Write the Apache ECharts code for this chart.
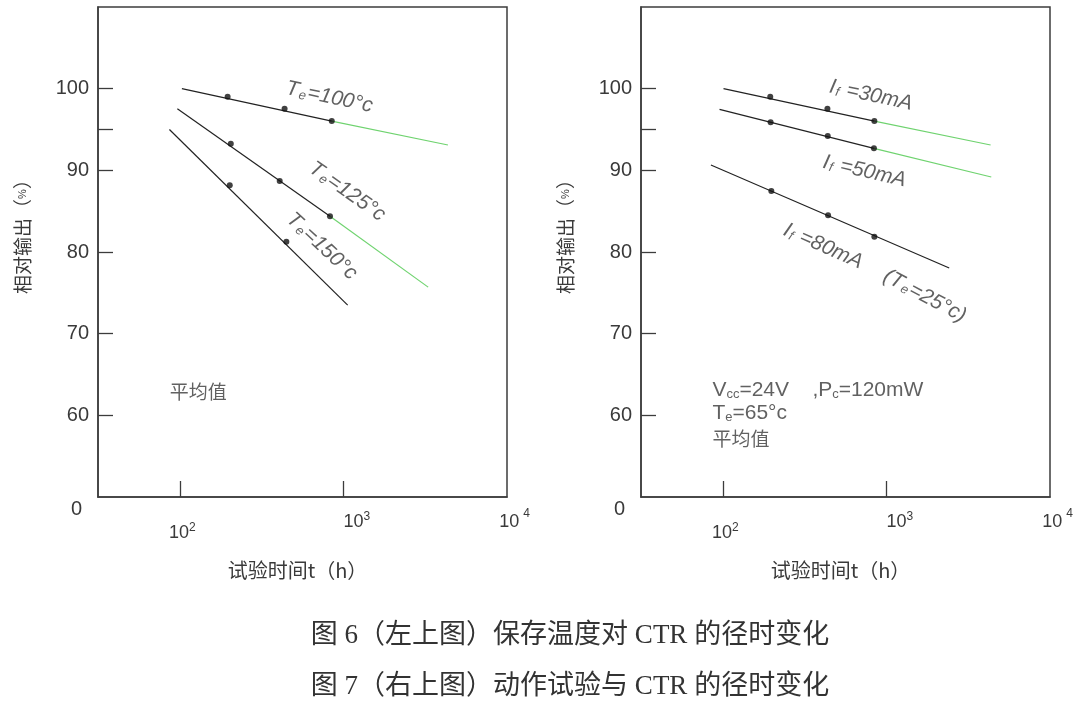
<!DOCTYPE html>
<html><head><meta charset="utf-8">
<script src="https://cdn.jsdelivr.net/npm/echarts@6/dist/echarts.min.js"></script>
<style>html,body{margin:0;padding:0;background:#fff}#c{width:1080px;height:710px}</style>
</head><body><div id="c"></div>
<script>
// ---- data: [test time (h), relative output (%)] ----
const te100Points = [[196, 99.0], [437, 97.55], [849, 96.03]];
const te100Fit = [[103, 100.0], [849, 96.03]];
const te100Extrap = [[849, 96.03], [4355, 93.1]];
const te125Points = [[205, 93.27], [408, 88.7], [828, 84.37]];
const te125Fit = [[96.6, 97.55], [828, 84.37]];
const te125Extrap = [[828, 84.37], [3296, 75.7]];
const te150Points = [[202, 88.16], [448, 81.27]];
const te150Fit = [[86.4, 95.0], [1062, 73.5]];

const if30Points = [[195, 99.0], [436, 97.55], [844, 96.03]];
const if30Fit = [[101, 100.0], [844, 96.03]];
const if30Extrap = [[844, 96.03], [4335, 93.1]];
const if50Points = [[196, 95.9], [438, 94.2], [839, 92.69]];
const if50Fit = [[95.5, 97.47], [839, 92.69]];
const if50Extrap = [[839, 92.69], [4375, 89.18]];
const if80Points = [[198, 87.47], [440, 84.5], [844, 81.88]];
const if80Fit = [[84.6, 90.65], [2421, 78.04]];

// ---- axis ticks / labels ----
const yTickValues = [60, 70, 80, 90, 95, 100];
const yLabelValues = [50, 60, 70, 80, 90, 100];
const yLabelTexts = {50: '0', 60: '60', 70: '70', 80: '80', 90: '90', 100: '100'};
const xTickValues = [100, 1000];
const xLabelValues = [100, 1000, 10000];
const xLabelExponents = {2: '2', 3: '3', 4: '4'};
const xAxisName = '试验时间t（h）';
const captions = ['图 6（左上图）保存温度对 CTR 的径时变化', '图 7（右上图）动作试验与 CTR 的径时变化'];

// ---- annotations: anchor in data units [h, %] ----
const leftNotes = [
  {at: [820, 98.94], text: '{i|T}{is|e}{i|=100°c}', rotate: -12, pos: 'inside'},
  {at: [1054, 87.4], text: '{i|T}{is|e}{i|=125°c}', rotate: -35, pos: 'inside'},
  {at: [738, 80.7], text: '{i|T}{is|e}{i|=150°c}', rotate: -43, pos: 'inside'},
  {at: [86.7, 62.86], text: '{c|平均值}', rotate: 0, pos: 'right'}
];
const rightNotes = [
  {at: [805, 99.18], text: '{i|I}{is|f}{i| =30mA}', rotate: -12, pos: 'inside'},
  {at: [735, 89.88], text: '{i|I}{is|f}{i| =50mA}', rotate: -13, pos: 'inside'},
  {at: [411, 80.7], text: '{i|I}{is|f}{i| =80mA}', rotate: -24, pos: 'inside'},
  {at: [1714, 74.6], text: '{i|(T}{is|e}{i|=25°c)}', rotate: -28, pos: 'inside'},
  {at: [86.4, 63.07], text: '{n|V}{s|cc}{n|=24V    ,P}{s|c}{n|=120mW}', rotate: 0, pos: 'right'},
  {at: [86.4, 60.26], text: '{n|T}{s|e}{n|=65°c}', rotate: 0, pos: 'right'},
  {at: [86.4, 57.08], text: '{c|平均值}', rotate: 0, pos: 'right'}
];

const AXIS_COLOR = '#3c3c3c';
const TEXT_COLOR = '#3a3a3a';
const LINE_COLOR = '#222';
const GREEN = '#6fd36f';
const LATIN = "'Liberation Sans', 'DejaVu Sans', sans-serif";
const CJK = "'Noto Sans CJK SC', sans-serif";

const noteRich = {
  i: {fontSize: 21, fontStyle: 'italic', fontFamily: LATIN, color: TEXT_COLOR},
  is: {fontSize: 13, fontStyle: 'italic', fontFamily: LATIN, color: TEXT_COLOR, verticalAlign: 'bottom', padding: [6, 1, 0, 1]},
  n: {fontSize: 21, fontFamily: LATIN, color: TEXT_COLOR},
  s: {fontSize: 13, fontFamily: LATIN, color: TEXT_COLOR, verticalAlign: 'bottom', padding: [6, 0, 0, 0]},
  c: {fontSize: 19, fontFamily: CJK, color: TEXT_COLOR}
};

function xAxisCfg(gi) {
  return {
    type: 'log', logBase: 10, gridIndex: gi,
    min: Math.pow(10, 1.5), max: 10000,
    axisLine: {show: true, lineStyle: {color: AXIS_COLOR, width: 1.5}},
    splitLine: {show: false},
    axisTick: {show: true, inside: true, length: 16, customValues: xTickValues, lineStyle: {color: AXIS_COLOR, width: 1.3}},
    axisLabel: {
      margin: 14,
      customValues: xLabelValues,
      formatter: function (v) {
        const e = Math.log10(v);
        const r = Math.round(e);
        if (Math.abs(e - r) > 1e-6 || !xLabelExponents[r]) return '';
        return '{b' + r + '|10}{s' + r + '|' + xLabelExponents[r] + '}';
      },
      rich: {
        b2: {fontSize: 18, fontFamily: LATIN, color: TEXT_COLOR, lineHeight: 44, padding: [0, 0, 0, 5]},
        s2: {fontSize: 12, fontFamily: LATIN, color: TEXT_COLOR, lineHeight: 44, padding: [0, 0, 10, 0]},
        b3: {fontSize: 18, fontFamily: LATIN, color: TEXT_COLOR, lineHeight: 22, padding: [0, 0, 0, 27]},
        s3: {fontSize: 12, fontFamily: LATIN, color: TEXT_COLOR, lineHeight: 22, padding: [0, 0, 10, 0]},
        b4: {fontSize: 18, fontFamily: LATIN, color: TEXT_COLOR, lineHeight: 22, padding: [0, 0, 0, 15]},
        s4: {fontSize: 12, fontFamily: LATIN, color: TEXT_COLOR, lineHeight: 22, padding: [0, 0, 16, 4]}
      }
    },
    name: xAxisName, nameLocation: 'middle', nameGap: 63,
    nameTextStyle: {fontSize: 20, fontFamily: CJK, color: TEXT_COLOR, padding: [0, 10, 0, 0]}
  };
}
function yAxisCfg(gi) {
  return {
    type: 'value', gridIndex: gi, min: 50, max: 110,
    axisLine: {show: true, lineStyle: {color: AXIS_COLOR, width: 1.5}},
    splitLine: {show: false},
    axisTick: {show: true, inside: true, length: 15, customValues: yTickValues, lineStyle: {color: AXIS_COLOR, width: 1.3}},
    axisLabel: {
      customValues: yLabelValues, margin: 9, fontSize: 20, fontFamily: LATIN, color: TEXT_COLOR,
      formatter: function (v) { return v === 50 ? '{z|' + yLabelTexts[v] + '}' : (yLabelTexts[v] || ''); },
      rich: {z: {fontSize: 20, fontFamily: LATIN, color: TEXT_COLOR, padding: [24, 7, 0, 0]}}
    },
    name: '{n|相对输出（}{p|%}{n|）}', nameLocation: 'middle', nameRotate: 90, nameGap: 66,
    nameTextStyle: {
      padding: [0, 0, 0, 40],
      rich: {
        n: {fontSize: 19, fontFamily: CJK, color: TEXT_COLOR},
        p: {fontSize: 11, fontFamily: LATIN, color: TEXT_COLOR}
      }
    }
  };
}

function lineSeries(gi, data, color) {
  return {type: 'line', xAxisIndex: gi, yAxisIndex: gi, data: data, symbol: 'none', silent: true,
    lineStyle: {color: color, width: 1.2}, z: 2};
}
function pointSeries(gi, data) {
  return {type: 'scatter', xAxisIndex: gi, yAxisIndex: gi, data: data, symbol: 'circle', symbolSize: 6,
    itemStyle: {color: '#111'}, z: 3};
}
function noteSeries(gi, notes) {
  return notes.map(function (n) {
    return {type: 'scatter', xAxisIndex: gi, yAxisIndex: gi, symbolSize: 0, silent: true, z: 4,
      data: [n.at],
      label: {show: true, position: n.pos, distance: 0, rotate: n.rotate, align: n.pos === 'right' ? 'left' : 'center',
        verticalAlign: 'middle',
        formatter: n.text, rich: noteRich}};
  });
}

const series = [
  lineSeries(0, te100Fit, LINE_COLOR), lineSeries(0, te100Extrap, GREEN), pointSeries(0, te100Points),
  lineSeries(0, te125Fit, LINE_COLOR), lineSeries(0, te125Extrap, GREEN), pointSeries(0, te125Points),
  lineSeries(0, te150Fit, LINE_COLOR), pointSeries(0, te150Points),
  lineSeries(1, if30Fit, LINE_COLOR), lineSeries(1, if30Extrap, GREEN), pointSeries(1, if30Points),
  lineSeries(1, if50Fit, LINE_COLOR), lineSeries(1, if50Extrap, GREEN), pointSeries(1, if50Points),
  lineSeries(1, if80Fit, LINE_COLOR), pointSeries(1, if80Points)
].concat(noteSeries(0, leftNotes), noteSeries(1, rightNotes));

const chart = echarts.init(document.getElementById('c'), null, {renderer: 'canvas'});
chart.setOption({
  animation: false,
  backgroundColor: '#fff',
  title: captions.map(function (t, i) {
    return {text: t, left: 565, top: 617 + i * 51, textAlign: 'center',
      textStyle: {fontSize: 27, fontWeight: 'normal', color: '#333', fontFamily: "'Liberation Serif', 'Noto Sans CJK SC', serif"}};
  }),
  grid: [
    {left: 98, top: 7, width: 409, height: 490, show: true, borderColor: AXIS_COLOR, borderWidth: 1.5, backgroundColor: 'transparent'},
    {left: 641, top: 7, width: 409, height: 490, show: true, borderColor: AXIS_COLOR, borderWidth: 1.5, backgroundColor: 'transparent'}
  ],
  xAxis: [xAxisCfg(0), xAxisCfg(1)],
  yAxis: [yAxisCfg(0), yAxisCfg(1)],
  series: series
});
</script></body></html>
